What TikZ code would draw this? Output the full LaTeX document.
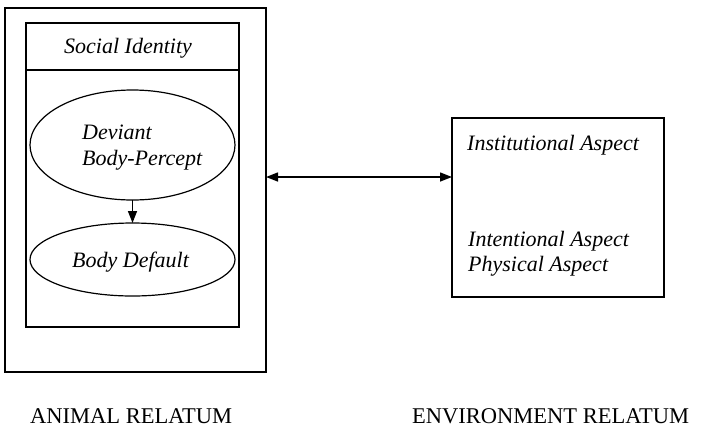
\documentclass[tikz,border=0pt]{standalone}
\usepackage{fontspec}
\setmainfont{Liberation Serif}
\usetikzlibrary{arrows.meta,shapes.geometric}
\begin{document}
\begin{tikzpicture}[x=1pt,y=-1pt,
  box/.style={draw,line width=1.2pt,rectangle,inner sep=0pt,outer sep=0pt},
  oval/.style={draw,line width=1.2pt,ellipse,inner sep=0pt,outer sep=0pt},
  itxt/.style={font=\fontsize{22}{26}\selectfont\itshape,inner sep=0pt,anchor=base west},
  rtxt/.style={font=\fontsize{22.5}{26}\selectfont,inner sep=0pt,anchor=base west},
  conn/.style={line width=1.4pt,-{Triangle[length=12pt,width=9pt]}},
  dconn/.style={line width=1.4pt,{Triangle[length=12pt,width=9pt]}-{Triangle[length=12pt,width=9pt]}}]
\useasboundingbox (0,0) rectangle (706,429);
% boxes
\node[box,minimum width=261pt,minimum height=364pt] (animal) at (135.5,190) {};
\node[box,minimum width=213pt,minimum height=304pt] (inner) at (132.5,175) {};
\coordinate (divl) at (26,70);
\coordinate (divr) at (239,70);
\draw[line width=1.2pt] (divl) -- (divr);
\node[oval,minimum width=205pt,minimum height=110pt] (dev) at (132.5,145) {};
\node[oval,minimum width=205pt,minimum height=73pt] (bd) at (132.5,259.5) {};
\node[box,minimum width=212pt,minimum height=179pt] (env) at (558,207.5) {};
% texts
\node[itxt] (si) at (64,53) {Social Identity};
\node[itxt] (dv) at (82,139) {Deviant};
\node[itxt] (bp) at (82,165) {Body-Percept};
\node[itxt] (bdt) at (72,267) {Body Default};
\node[itxt] (ins) at (467,150) {Institutional Aspect};
\node[itxt] (int) at (468,246.5) {Intentional Aspect};
\node[itxt] (phy) at (468,271.5) {Physical Aspect};
\node[rtxt] (al) at (30,423) {ANIMAL RELATUM};
\node[rtxt] (el) at (412,423) {ENVIRONMENT RELATUM};
% connectors
\draw[conn] (dev.south) -- (bd.north);
\draw[dconn] (animal.east |- 0,177) -- (env.west |- 0,177);
\end{tikzpicture}
\end{document}
